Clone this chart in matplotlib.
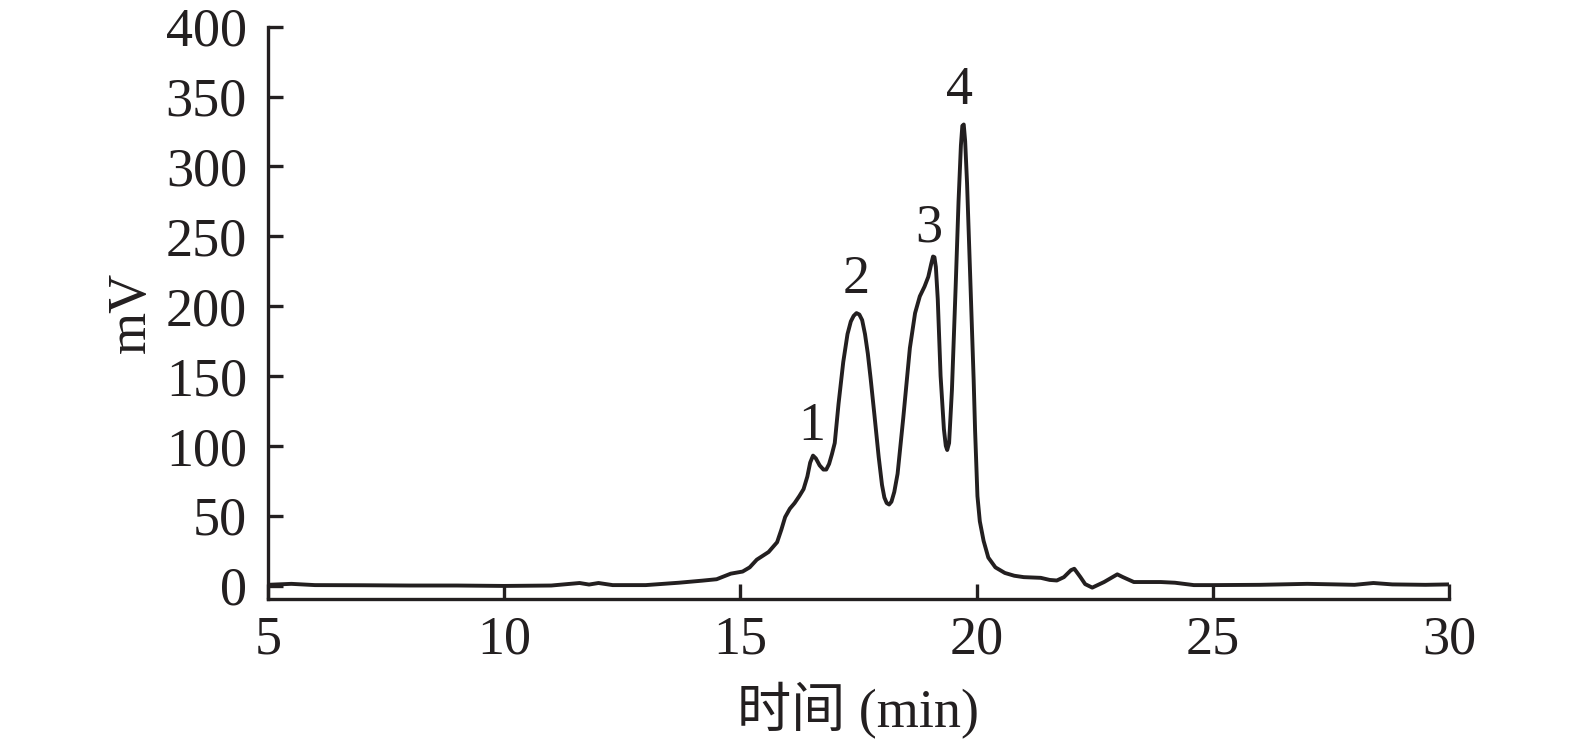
import matplotlib
matplotlib.use('Agg')
import numpy as np
from matplotlib import pyplot as plt

plt.rcParams['font.family'] = ['Liberation Serif', 'Noto Sans CJK SC']

# 色谱数据
time_min = [5.0, 5.5, 6.0, 7.0, 8.0, 9.0, 10.0, 11.0, 11.6, 11.8, 12.0, 12.3,
            13.0, 13.7, 14.2, 14.5, 14.8, 15.05, 15.2, 15.35, 15.6, 15.78,
            15.87, 15.95, 16.05, 16.15, 16.25, 16.34, 16.42, 16.48, 16.54,
            16.60, 16.68, 16.76, 16.82, 16.88, 16.94, 17.0, 17.08, 17.18,
            17.27, 17.34, 17.40, 17.46, 17.52, 17.58, 17.64, 17.70, 17.76,
            17.84, 17.93, 18.0, 18.05, 18.10, 18.15, 18.20, 18.26, 18.33,
            18.45, 18.59, 18.7, 18.8, 18.9, 18.98, 19.04, 19.08, 19.11,
            19.14, 19.18, 19.24, 19.31, 19.35, 19.38, 19.42, 19.48, 19.56,
            19.62, 19.67, 19.70, 19.73, 19.76, 19.80, 19.87, 19.94, 19.97,
            20.02, 20.07, 20.15, 20.25, 20.4, 20.6, 20.8, 21.0, 21.36, 21.55,
            21.7, 21.85, 22.0, 22.07, 22.2, 22.3, 22.45, 22.7, 22.98, 23.1,
            23.33, 23.9, 24.2, 24.6, 25.0, 26.0, 27.0, 27.6, 28.0, 28.4, 28.8,
            29.5, 30.0]
signal_mv = [0.5, 1.2, 0.3, 0.2, 0.0, 0.0, -0.3, 0.0, 1.8, 0.7, 1.8, 0.3,
             0.3, 2.0, 3.5, 4.5, 8.5, 10.0, 13.0, 18.5, 24.0, 31.0,
             40.0, 49.0, 55.0, 59.0, 64.0, 69.0, 78.0, 88.0, 93.0,
             91.0, 86.0, 83.0, 83.0, 87.0, 94.0, 102.0, 130.0, 160.0,
             180.0, 189.0, 193.0, 195.0, 194.0, 190.0, 180.0, 166.0, 148.0,
             122.0, 92.0, 72.0, 63.0, 59.0, 58.0, 60.0, 67.0, 80.0,
             120.0, 170.0, 195.0, 207.0, 214.0, 221.0, 230.0, 235.5, 235.0,
             228.0, 205.0, 150.0, 112.0, 100.0, 97.0, 102.0, 140.0, 215.0,
             275.0, 315.0, 329.0, 330.0, 318.0, 288.0, 218.0, 147.0, 111.0,
             64.0, 46.0, 32.0, 20.0, 13.0, 9.0, 7.0, 6.0, 5.5, 4.0,
             3.6, 6.0, 11.0, 12.0, 6.0, 1.0, -1.5, 2.5, 8.0, 6.0,
             2.5, 2.5, 2.0, 0.3, 0.3, 0.5, 1.2, 0.8, 0.5, 1.8, 0.8,
             0.5, 0.8]

peak_labels = ['1', '2', '3', '4']
peak_x = [16.52, 17.46, 19.0, 19.64]
peak_y = [114, 219, 256, 354]

ink = '#231f20'

fig = plt.figure(figsize=(15.75, 7.42), dpi=100)
ax = fig.add_axes([0.170, 0.193, 0.750, 0.771])

ax.plot(time_min, signal_mv, color=ink, lw=2.8,
        solid_joinstyle='round', solid_capstyle='round')

for lab, px, py in zip(peak_labels, peak_x, peak_y):
    ax.text(px, py, lab, ha='center', va='center', fontsize=39, color=ink)

ax.set_xlim(5, 30)
ax.set_ylim(-9.5, 400)
ax.set_xticks([5, 10, 15, 20, 25, 30])
ax.set_yticks(np.arange(0, 401, 50))

for s in ['top', 'right']:
    ax.spines[s].set_visible(False)
for s in ['left', 'bottom']:
    ax.spines[s].set_linewidth(2.4)
    ax.spines[s].set_color(ink)

ax.tick_params(direction='in', length=11, width=2.4, color=ink,
               labelsize=39, labelcolor=ink)
ax.tick_params(axis='y', pad=15)
ax.tick_params(axis='x', pad=12)

ax.set_xlabel('时间 (min)', fontsize=39, color=ink, labelpad=12)
ax.set_ylabel('mV', fontsize=39, color=ink, labelpad=6)

fig.savefig('out.png', dpi=100)
